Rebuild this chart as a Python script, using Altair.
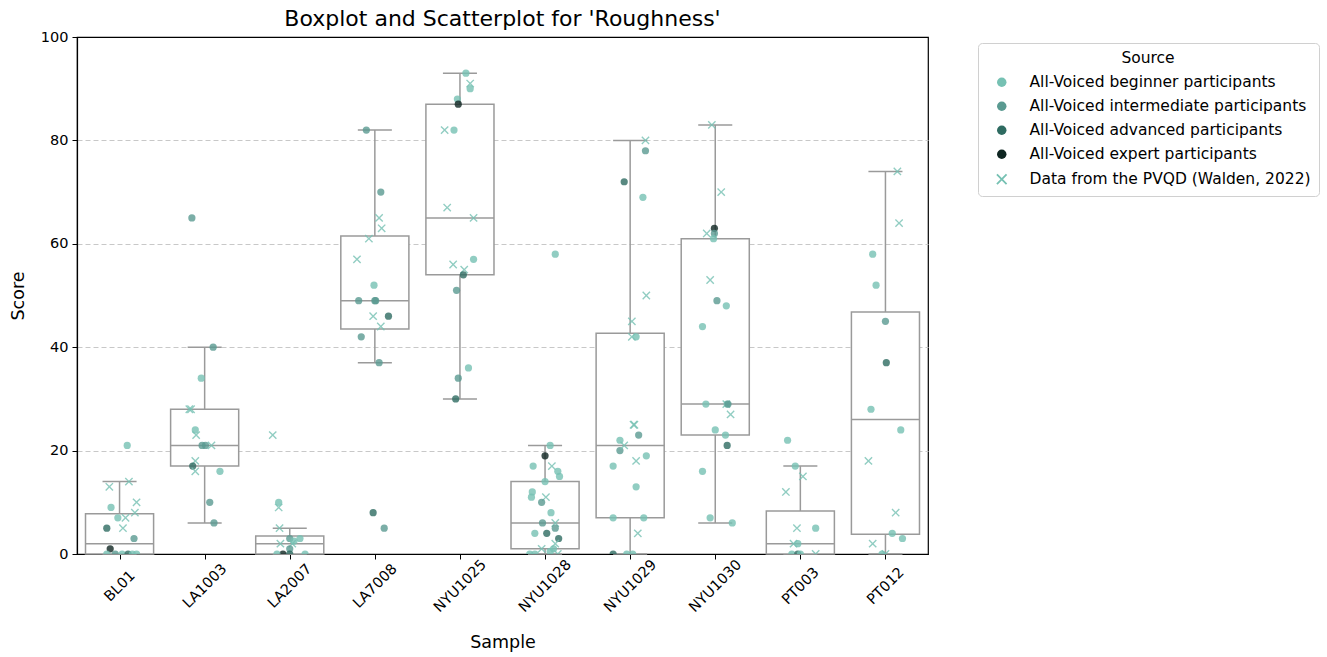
import altair as alt
import pandas as pd

samples = ["BL01", "LA1003", "LA2007", "LA7008", "NYU1025",
           "NYU1028", "NYU1029", "NYU1030", "PT003", "PT012"]

# Box statistics
box_lo = [0, 6, 0, 37, 30, 0, 0, 6, 0, 0]
box_q1 = [0, 17, 0, 43.5, 54, 1, 7, 23, 0, 3.8]
box_med = [2, 21, 2, 49, 65, 6, 21, 29, 2, 26]
box_q3 = [7.8, 28, 3.5, 61.5, 87, 14, 42.7, 61, 8.3, 46.8]
box_hi = [14, 40, 5, 82, 93, 21, 80, 83, 17, 74]

source_codes = ["B", "I", "A", "E", "P"]
source_names = [
    "All-Voiced beginner participants",
    "All-Voiced intermediate participants",
    "All-Voiced advanced participants",
    "All-Voiced expert participants",
    "Data from the PVQD (Walden, 2022)",
]
source_colors = ["#76c1b3", "#5a9a91", "#2e6b61", "#0f2622", "#76c1b3"]

# Scatter points: sample index, score, source code, horizontal jitter (band units)
pt_sample = (
    [0] * 18 + [1] * 16 + [2] * 14 + [3] * 17 + [4] * 17
    + [5] * 26 + [6] * 24 + [7] * 21 + [8] * 12 + [9] * 15
)
pt_score = [
    # BL01
    21, 13, 14, 9, 10, 8, 7, 7, 5, 5, 3, 1, 0, 0, 0, 0, 0, 0,
    # LA1003
    65, 40, 34, 28, 28, 24, 23, 21, 21, 18, 17, 16, 16, 10, 6, 21,
    # LA2007
    23, 10, 9, 5, 3, 3, 2, 2, 2.5, 1, 0, 0, 0, 0,
    # LA7008
    82, 70, 65, 63, 61, 57, 52, 49, 49, 46, 46, 44, 42, 37, 8, 5, 49,
    # NYU1025
    93, 91, 90, 88, 87, 82, 82, 67, 65, 57, 56, 55, 54, 51, 36, 34, 30,
    # NYU1028
    58, 21, 19, 17, 17, 16, 15, 14, 12, 11, 11, 10, 8, 6, 6, 5, 4, 4, 3,
    1, 2, 0, 0, 0.5, 0, 1,
    # NYU1029
    80, 78, 72, 69, 50, 45, 42, 42, 25, 25, 23, 22, 20, 19, 18, 17, 13,
    7, 7, 4, 0, 0, 0, 21,
    # NYU1030
    83, 70, 63, 62, 62, 61, 53, 49, 48, 44, 29, 29, 29, 27, 24, 23, 21,
    16, 7, 6, 29,
    # PT003
    22, 17, 15, 12, 5, 5, 2, 2, 0, 0, 0, 0,
    # PT012
    74, 64, 58, 52, 45, 37, 28, 24, 18, 8, 4, 3, 2, 0, 0,
]
pt_source = [
    # BL01
    "B", "P", "P", "B", "P", "P", "B", "P", "P", "A", "I", "E", "B", "I", "B", "A", "B", "B",
    # LA1003
    "I", "I", "B", "P", "P", "B", "P", "I", "P", "P", "A", "P", "B", "I", "I", "I",
    # LA2007
    "P", "B", "P", "P", "I", "B", "P", "P", "B", "I", "E", "A", "B", "B",
    # LA7008
    "I", "I", "P", "P", "P", "P", "B", "I", "I", "P", "A", "P", "I", "I", "A", "I", "I",
    # NYU1025
    "B", "P", "B", "B", "E", "P", "B", "P", "P", "B", "P", "P", "A", "I", "B", "I", "A",
    # NYU1028
    "B", "B", "E", "B", "P", "B", "B", "B", "B", "B", "P", "I", "B", "P", "I", "I", "A", "B", "A",
    "P", "P", "B", "B", "B", "P", "B",
    # NYU1029
    "P", "I", "A", "B", "P", "P", "P", "B", "P", "P", "I", "B", "I", "B", "P", "B", "B",
    "B", "B", "P", "A", "B", "B", "P",
    # NYU1030
    "P", "P", "E", "I", "P", "B", "P", "I", "B", "B", "B", "P", "B", "P", "B", "B", "A",
    "B", "B", "B", "I",
    # PT003
    "B", "B", "P", "P", "P", "B", "P", "B", "B", "A", "B", "P",
    # PT012
    "P", "P", "B", "B", "I", "A", "B", "B", "P", "P", "B", "B", "P", "B", "P",
]
pt_jitter = [
    # BL01
    0.09, -0.12, 0.11, -0.10, 0.20, 0.18, -0.02, 0.07, 0.04, -0.15, 0.17, -0.11,
    -0.15, -0.05, 0.03, 0.10, 0.15, 0.20,
    # LA1003
    -0.15, 0.10, -0.04, -0.18, -0.16, -0.11, -0.10, 0.01, 0.08, -0.11, -0.14, -0.11,
    0.18, 0.06, 0.11, -0.03,
    # LA2007
    -0.20, -0.13, -0.13, -0.12, 0.00, 0.12, -0.11, 0.03, 0.05, 0.00, -0.08, 0.00, 0.18, -0.15,
    # LA7008
    -0.10, 0.07, 0.05, 0.08, -0.07, -0.21, -0.01, -0.19, 0.00, -0.02, 0.16, 0.07,
    -0.16, 0.05, -0.02, 0.11, 0.01,
    # NYU1025
    0.07, 0.12, 0.12, -0.03, -0.02, -0.18, -0.07, -0.15, 0.16, 0.16, -0.08, 0.05,
    0.04, -0.04, 0.10, -0.02, -0.05,
    # NYU1028
    0.12, 0.06, 0.00, -0.14, 0.08, 0.15, 0.17, 0.00, -0.15, -0.16, 0.01, -0.04,
    0.07, 0.12, -0.03, 0.12, 0.02, -0.12, 0.16, -0.04, 0.12, -0.18, -0.12, 0.06, 0.15, 0.10,
    # NYU1029
    0.18, 0.18, -0.07, 0.15, 0.19, 0.02, 0.02, 0.07, 0.04, 0.05, 0.10, -0.12,
    -0.12, 0.19, 0.07, -0.20, 0.07, -0.20, 0.16, 0.09, -0.20, -0.04, 0.03, -0.07,
    # NYU1030
    -0.04, 0.07, -0.01, -0.01, -0.10, -0.02, -0.06, 0.02, 0.13, -0.15, -0.11, 0.13,
    0.14, 0.18, 0.00, 0.12, 0.14, -0.15, -0.06, 0.20, 0.15,
    # PT003
    -0.15, -0.06, 0.03, -0.17, -0.04, 0.18, -0.08, -0.03, -0.10, -0.03, 0.00, 0.18,
    # PT012
    0.14, 0.16, -0.15, -0.11, 0.00, 0.01, -0.17, 0.18, -0.20, 0.12, 0.08, 0.20,
    -0.15, -0.04, 0.00,
]

name_of = dict(zip(source_codes, source_names))
points = pd.DataFrame({
    "idx": pt_sample,
    "score": pt_score,
    "source": [name_of[c] for c in pt_source],
    "jitter": pt_jitter,
})
boxes = pd.DataFrame({
    "idx": list(range(len(samples))), "lo": box_lo, "q1": box_q1, "med": box_med,
    "q3": box_q3, "hi": box_hi,
})

FONT = "DejaVu Sans"
GREY = "#9a9a9a"
X_PATH = ("M-1.15,-0.88L-0.88,-1.15L0,-0.27L0.88,-1.15L1.15,-0.88L0.27,0L1.15,0.88L0.88,1.15"
          "L0,0.27L-0.88,1.15L-1.15,0.88L-0.27,0Z")

label_expr = "[" + ",".join(f"'{s}'" for s in samples) + "][datum.value]"
xscale = alt.Scale(domain=[-0.5, len(samples) - 0.5], nice=False, zero=False)
xaxis = alt.Axis(title="Sample", values=list(range(len(samples))),
                 labelExpr=label_expr, labelAngle=-45, labelAlign="center",
                 labelBaseline="middle", labelPadding=27, grid=False)
yscale = alt.Scale(domain=[0, 100], nice=False)
yaxis = alt.Axis(title="Score", values=[0, 20, 40, 60, 80, 100], grid=True,
                 gridOpacity={"condition": {"test": "datum.value >= 100 || datum.value <= 0",
                                            "value": 0}, "value": 1})

base = alt.Chart(boxes).transform_calculate(
    bl="datum.idx - 0.4", br="datum.idx + 0.4",
    cl="datum.idx - 0.2", cr="datum.idx + 0.2",
)
whisk = base.mark_rule(color=GREY, strokeWidth=1.5).encode(
    x=alt.X("idx:Q", scale=xscale, axis=xaxis),
    y=alt.Y("lo:Q", scale=yscale, axis=yaxis), y2="hi:Q")
cap_lo = base.mark_rule(color=GREY, strokeWidth=1.5).encode(
    x=alt.X("cl:Q", scale=xscale), x2="cr:Q", y=alt.Y("lo:Q", scale=yscale))
cap_hi = base.mark_rule(color=GREY, strokeWidth=1.5).encode(
    x=alt.X("cl:Q", scale=xscale), x2="cr:Q", y=alt.Y("hi:Q", scale=yscale))
box = base.mark_rect(fill="white", stroke=GREY, strokeWidth=1.5).encode(
    x=alt.X("bl:Q", scale=xscale), x2="br:Q",
    y=alt.Y("q1:Q", scale=yscale), y2="q3:Q")
med = base.mark_rule(color=GREY, strokeWidth=1.5).encode(
    x=alt.X("bl:Q", scale=xscale), x2="br:Q", y=alt.Y("med:Q", scale=yscale))

legend = alt.Legend(
    title="Source", orient="none", legendX=901, legendY=6,
    titleAnchor="middle", titleFontSize=15.5, titleFontWeight="normal",
    labelFontSize=15.5, labelLimit=500, symbolSize=90, strokeColor="#d0d0d0",
    cornerRadius=4, padding=8, symbolOffset=8, labelOffset=20,
    rowPadding=7, titlePadding=8, fillColor="white", symbolOpacity=1,
)

pts = alt.Chart(points).transform_calculate(
    pos="datum.idx + datum.jitter"
).mark_point(filled=True, opacity=0.8, size=52, clip=True).encode(
    x=alt.X("pos:Q", scale=xscale),
    y=alt.Y("score:Q", scale=yscale),
    color=alt.Color("source:N", scale=alt.Scale(domain=source_names, range=source_colors),
                    legend=legend),
    shape=alt.Shape("source:N", scale=alt.Scale(
        domain=source_names, range=["circle"] * 4 + [X_PATH]), legend=legend),
)

chart = alt.layer(whisk, cap_lo, cap_hi, box, med, pts).properties(
    width=851, height=517,
    autosize=alt.AutoSizeParams(type="none"),
    padding={"left": 77, "top": 37, "right": 399, "bottom": 103},
    title=alt.TitleParams("Boxplot and Scatterplot for 'Roughness'", fontSize=22,
                          fontWeight="normal", anchor="middle", offset=-2,
                          font=FONT, color="black"),
).configure(font=FONT).configure_view(
    stroke="black", strokeWidth=1.2
).configure_axis(
    labelFont=FONT, titleFont=FONT, labelFontSize=14.5, titleFontSize=17.5,
    titleFontWeight="normal", labelColor="black", titleColor="black",
    domainColor="black", tickColor="black", tickSize=5, domainWidth=1.2,
    gridColor="#c8c8c8", gridDash=[5, 3], gridWidth=1, labelPadding=4,
).configure_axisX(titlePadding=19).configure_axisY(
    titlePadding=13
).configure_legend(labelFont=FONT, titleFont=FONT, labelColor="black", titleColor="black")

chart.save("out.html", embed_options={"renderer": "svg", "actions": False})
